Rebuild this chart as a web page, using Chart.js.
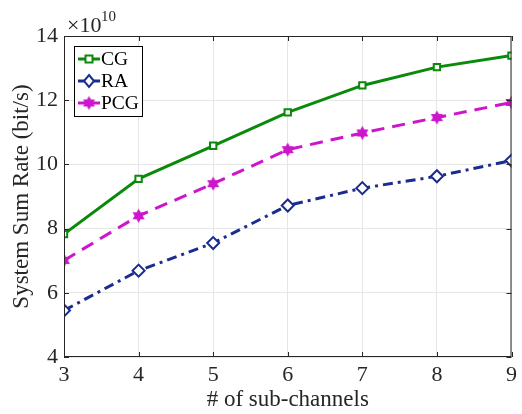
<!DOCTYPE html>
<html>
<head>
<meta charset="utf-8">
<script src="https://cdn.jsdelivr.net/npm/chart.js"></script>
<style>
  html, body { margin: 0; padding: 0; background: #fff; }
  #wrap { width: 522px; height: 414px; }
</style>
</head>
<body>
<div id="wrap"><canvas id="rateChart" width="522" height="414"></canvas></div>
<script>
// datos (en unidades de 1e10 bit/s)
const subChannels = [3, 4, 5, 6, 7, 8, 9];
const cgRate  = [7.83, 9.55, 10.58, 11.62, 12.46, 13.03, 13.39];
const raRate  = [5.45, 6.69, 7.55, 8.72, 9.26, 9.63, 10.12];
const pcgRate = [7.01, 8.40, 9.40, 10.46, 10.98, 11.46, 11.93];
const yTicks  = [4, 6, 8, 10, 12, 14];
const seriesNames = ['CG', 'RA', 'PCG'];

const FONT = '"Liberation Serif", "Times New Roman", serif';
const GREEN = '#0a8a0a';
const BLUE = '#1a2d8f';
const MAGENTA = '#cc16cc';

// marcador hexagrama para PCG
function hexagram(size, color) {
    const c = document.createElement('canvas');
    c.width = size; c.height = size;
    const g = c.getContext('2d');
    const r = size / 2 - 0.5, cx = size / 2, cy = size / 2;
    g.fillStyle = color;
    g.beginPath();
    for (let i = 0; i < 12; i++) {
        const a = -Math.PI / 2 + i * Math.PI / 6;
        const rr = i % 2 === 0 ? r : r * 0.58;
        const px = cx + rr * Math.cos(a), py = cy + rr * Math.sin(a);
        i === 0 ? g.moveTo(px, py) : g.lineTo(px, py);
    }
    g.closePath();
    g.fill();
    return c;
}
const starImg = hexagram(15, MAGENTA);

const toPoints = arr => subChannels.map((x, i) => ({ x: x, y: arr[i] }));

// leyenda y detalles estilo MATLAB
const matlabBox = {
    id: 'matlabBox',
    afterDraw(chart) {
        const { ctx, chartArea: a, scales } = chart;
        ctx.save();
        // marco
        ctx.strokeStyle = '#262626';
        ctx.lineWidth = 1;
        ctx.strokeRect(a.left + 0.5, a.top + 0.5, a.right - a.left - 1, a.bottom - a.top - 1);
        // ticks hacia dentro
        const tl = 5;
        ctx.beginPath();
        subChannels.forEach(v => {
            const x = Math.round(scales.x.getPixelForValue(v)) + 0.5;
            ctx.moveTo(x, a.bottom); ctx.lineTo(x, a.bottom - tl);
            ctx.moveTo(x, a.top); ctx.lineTo(x, a.top + tl);
        });
        yTicks.forEach(v => {
            const y = Math.round(scales.y.getPixelForValue(v)) + 0.5;
            ctx.moveTo(a.left, y); ctx.lineTo(a.left + tl, y);
            ctx.moveTo(a.right, y); ctx.lineTo(a.right - tl, y);
        });
        ctx.stroke();

        // multiplicador x10^10
        ctx.fillStyle = '#262626';
        ctx.textBaseline = 'alphabetic';
        ctx.textAlign = 'left';
        ctx.font = '22px ' + FONT;
        ctx.fillText('\u00d710', a.left + 3, 32);
        ctx.font = '15px ' + FONT;
        ctx.fillText('10', a.left + 37, 21);

        // leyenda
        const lx = 74, ly = 46, lw = 68, lh = 70;
        ctx.fillStyle = '#fff';
        ctx.fillRect(lx, ly, lw, lh);
        ctx.strokeStyle = '#000';
        ctx.strokeRect(lx + 0.5, ly + 0.5, lw, lh);
        chart.data.datasets.forEach((ds, i) => {
            const y = ly + 13 + i * 22;
            ctx.strokeStyle = ds.borderColor;
            ctx.lineWidth = 3;
            ctx.setLineDash([]);
            ctx.beginPath();
            ctx.moveTo(lx + 4, y); ctx.lineTo(lx + 26, y);
            ctx.stroke();
            ctx.lineWidth = 2;
            const mx = lx + 15;
            if (ds.pointStyle === 'rect') {
                ctx.fillStyle = '#fff';
                ctx.fillRect(mx - 3.5, y - 3.5, 7, 7);
                ctx.strokeRect(mx - 3.5, y - 3.5, 7, 7);
            } else if (ds.pointStyle === 'rectRot') {
                ctx.fillStyle = '#fff';
                ctx.beginPath();
                ctx.moveTo(mx, y - 6); ctx.lineTo(mx + 5, y); ctx.lineTo(mx, y + 6); ctx.lineTo(mx - 5, y);
                ctx.closePath(); ctx.fill(); ctx.stroke();
            } else {
                ctx.drawImage(starImg, mx - 7.5, y - 7.5);
            }
            ctx.fillStyle = '#000';
            ctx.font = '19.5px ' + FONT;
            ctx.textBaseline = 'middle';
            ctx.fillText(seriesNames[i], lx + 27, y + 1);
        });
        ctx.restore();
    }
};

const ctx = document.getElementById('rateChart');
new Chart(ctx, {
    type: 'line',
    data: {
        datasets: [{
            label: seriesNames[0],
            data: toPoints(cgRate),
            borderColor: GREEN,
            backgroundColor: '#fff',
            borderWidth: 3,
            pointStyle: 'rect',
            pointRadius: 4.5,
            pointBorderWidth: 2,
            tension: 0
        }, {
            label: seriesNames[1],
            data: toPoints(raRate),
            borderColor: BLUE,
            backgroundColor: '#fff',
            borderWidth: 3,
            borderDash: [10, 5, 3, 5],
            pointStyle: 'rectRot',
            pointRadius: 6,
            pointBorderWidth: 2,
            tension: 0
        }, {
            label: seriesNames[2],
            data: toPoints(pcgRate),
            borderColor: MAGENTA,
            backgroundColor: MAGENTA,
            borderWidth: 3,
            borderDash: [13, 8],
            pointStyle: starImg,
            tension: 0
        }]
    },
    options: {
        responsive: false,
        animation: false,
        layout: { padding: { top: 36, right: 9, left: 0, bottom: 0 } },
        plugins: {
            legend: { display: false },
            tooltip: { enabled: false }
        },
        scales: {
            x: {
                type: 'linear',
                min: 3,
                max: 9,
                afterFit: s => { s.height = 57; },
                ticks: {
                    stepSize: 1,
                    padding: 5,
                    color: '#262626',
                    font: { family: FONT, size: 22 }
                },
                grid: { color: '#e6e6e6', drawTicks: false },
                border: { display: false },
                title: {
                    display: true,
                    text: '# of sub-channels',
                    color: '#262626',
                    font: { family: FONT, size: 23 },
                    padding: { top: 0, bottom: 0 }
                }
            },
            y: {
                min: 4,
                max: 14,
                afterFit: s => { s.width = 64; },
                afterBuildTicks: s => { s.ticks = yTicks.map(v => ({ value: v })); },
                ticks: {
                    padding: 6,
                    color: '#262626',
                    font: { family: FONT, size: 22 }
                },
                grid: { color: '#e6e6e6', drawTicks: false },
                border: { display: false },
                title: {
                    display: true,
                    text: 'System Sum Rate (bit/s)',
                    color: '#262626',
                    font: { family: FONT, size: 23 },
                    padding: { top: 8, bottom: 0 }
                }
            }
        }
    },
    plugins: [matlabBox]
});
</script>
</body>
</html>
